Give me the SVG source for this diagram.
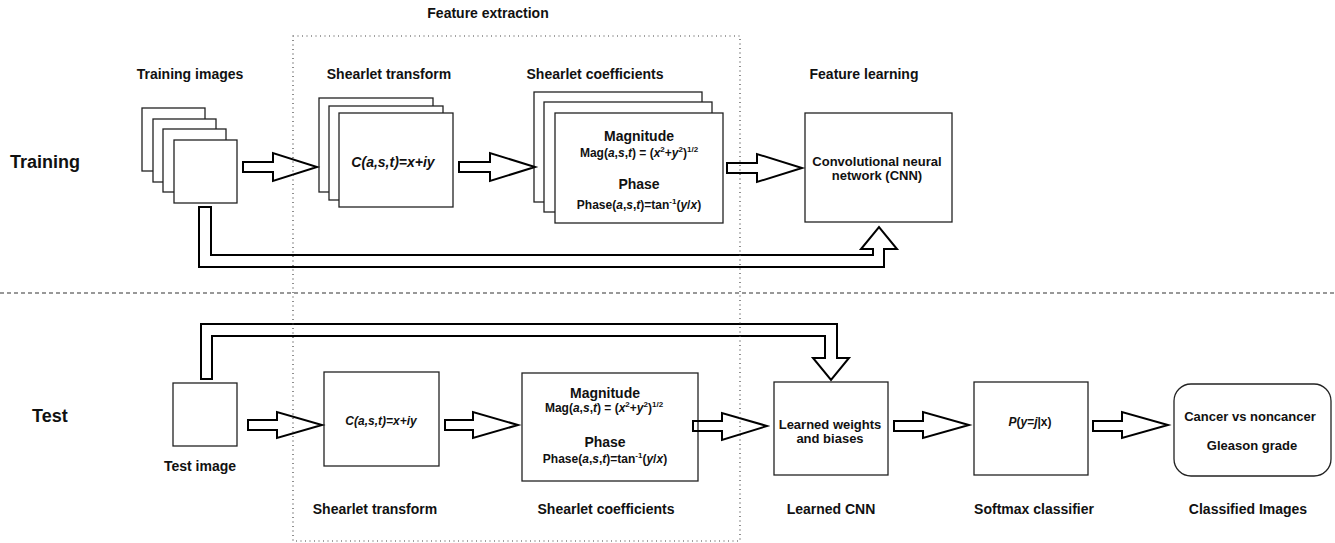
<svg xmlns="http://www.w3.org/2000/svg" width="1335" height="543" viewBox="0 0 1335 543">
<style>
text{font-family:"Liberation Sans",Arial,Helvetica,sans-serif;font-weight:bold;fill:#111}
.lbl{font-size:14px;text-anchor:middle}
.big{font-size:18px}
.t13{font-size:13px;text-anchor:middle}
.t12{font-size:12px;text-anchor:middle}
.i{font-style:italic}
.sup{font-size:8px}
.box{fill:#fff;stroke:#222;stroke-width:1.3}
.arr{fill:none;stroke:#000;stroke-width:2;stroke-linejoin:miter}
.dot{fill:none;stroke:#444;stroke-width:1.2;stroke-dasharray:1 3.5}
.dash{fill:none;stroke:#333;stroke-width:1.2;stroke-dasharray:4 3}
</style>
<rect width="1335" height="543" fill="#fff"/>

<g id="section-labels">
<text class="big" x="10" y="168">Training</text>
<text class="big" x="32" y="422">Test</text>
<text class="lbl" x="488" y="18">Feature extraction</text>
</g>

<line id="separator" class="dash" x1="0" y1="293" x2="1335" y2="293"/>

<g id="training-images">
<rect class="box" x="142" y="108" width="63" height="63"/>
<rect class="box" x="153" y="119" width="63" height="63"/>
<rect class="box" x="163" y="129" width="63" height="63"/>
<rect class="box" x="174" y="140" width="63" height="63"/>
<text class="lbl" x="190" y="79">Training images</text>
</g>

<g id="shearlet-transform-train">
<rect class="box" x="319" y="98" width="114" height="94"/>
<rect class="box" x="329" y="106" width="114" height="94"/>
<rect class="box" x="339" y="113" width="114" height="94"/>
<text class="lbl i" x="393" y="167">C(a,s,t)=x+iy</text>
<text class="lbl" x="389" y="79">Shearlet transform</text>
</g>

<g id="shearlet-coefficients-train">
<rect class="box" x="534" y="92" width="168" height="110"/>
<rect class="box" x="544" y="102" width="168" height="110"/>
<rect class="box" x="555" y="113" width="168" height="110"/>
<text class="lbl" x="639" y="141">Magnitude</text>
<text class="t12" x="639" y="157">Mag(<tspan class="i">a</tspan>,<tspan class="i">s</tspan>,<tspan class="i">t</tspan>) = (<tspan class="i">x</tspan><tspan class="sup" dy="-5">2</tspan><tspan dy="5">+</tspan><tspan class="i">y</tspan><tspan class="sup" dy="-5">2</tspan><tspan dy="5">)</tspan><tspan class="sup" dy="-5">1/2</tspan></text>
<text class="lbl" x="639" y="189">Phase</text>
<text class="t12" x="639" y="209">Phase(<tspan class="i">a</tspan>,<tspan class="i">s</tspan>,<tspan class="i">t</tspan>)=tan<tspan class="sup" dy="-5">-1</tspan><tspan dy="5">(</tspan><tspan class="i">y</tspan>/<tspan class="i">x</tspan>)</text>
<text class="lbl" x="595" y="79">Shearlet coefficients</text>
</g>

<g id="cnn">
<rect class="box" x="805" y="113" width="147" height="109"/>
<text class="t13" x="877" y="166">Convolutional neural</text>
<text class="t13" x="877" y="180">network (CNN)</text>
<text class="lbl" x="864" y="79">Feature learning</text>
</g>

<g id="test-image">
<rect class="box" x="173" y="383" width="64" height="63"/>
<text class="lbl" x="200" y="471">Test image</text>
</g>

<g id="shearlet-transform-test">
<rect class="box" x="324" y="372" width="115" height="94"/>
<text class="t12 i" x="381" y="425">C(a,s,t)=x+iy</text>
<text class="lbl" x="375" y="514">Shearlet transform</text>
</g>

<g id="shearlet-coefficients-test">
<rect class="box" x="522" y="373" width="176" height="108"/>
<text class="lbl" x="605" y="398">Magnitude</text>
<text class="t12" x="604" y="412">Mag(<tspan class="i">a</tspan>,<tspan class="i">s</tspan>,<tspan class="i">t</tspan>) = (<tspan class="i">x</tspan><tspan class="sup" dy="-5">2</tspan><tspan dy="5">+</tspan><tspan class="i">y</tspan><tspan class="sup" dy="-5">2</tspan><tspan dy="5">)</tspan><tspan class="sup" dy="-5">1/2</tspan></text>
<text class="lbl" x="605" y="447">Phase</text>
<text class="t12" x="605" y="463">Phase(<tspan class="i">a</tspan>,<tspan class="i">s</tspan>,<tspan class="i">t</tspan>)=tan<tspan class="sup" dy="-5">-1</tspan><tspan dy="5">(</tspan><tspan class="i">y</tspan>/<tspan class="i">x</tspan>)</text>
<text class="lbl" x="606" y="514">Shearlet coefficients</text>
</g>

<g id="learned-cnn">
<rect class="box" x="774" y="382" width="114" height="93"/>
<text class="t13" x="830" y="429">Learned weights</text>
<text class="t13" x="830" y="443">and biases</text>
<text class="lbl" x="831" y="514">Learned CNN</text>
</g>

<g id="softmax">
<rect class="box" x="974" y="382" width="114" height="93"/>
<text class="t12" x="1030" y="426"><tspan class="i">P</tspan>(<tspan class="i">y</tspan>=<tspan class="i">j</tspan>|x)</text>
<text class="lbl" x="1034" y="514">Softmax classifier</text>
</g>

<g id="classified">
<rect class="box" x="1174" y="384" width="157" height="92" rx="17" ry="17"/>
<text class="t13" x="1250" y="421">Cancer vs noncancer</text>
<text class="t13" x="1252" y="450">Gleason grade</text>
<text class="lbl" x="1248" y="514">Classified Images</text>
</g>

<g id="connectors">
<path class="arr" d="M243,162 H273 V153 L317,167 L273,181 V172 H243 Z"/>
<path class="arr" d="M459,162 H490 V153 L535,167 L490,181 V172 H459 Z"/>
<path class="arr" d="M727,163 H757 V154 L802,168 L757,182 V173 H727 Z"/>
<path class="arr" d="M199,207 H211 V255 H873 V249 H861 L879,227 L897,249 H884 V267 H199 Z"/>
<path class="arr" d="M201,379 V324 H837 V358 H849 L831,380 L813,358 H825 V336 H212 V379 Z"/>
<path class="arr" d="M248,420 H277 V412 L322,425 L277,438 V430 H248 Z"/>
<path class="arr" d="M445,420 H473 V412 L518,425 L473,438 V430 H445 Z"/>
<path class="arr" d="M693,421 H722 V413 L767,426 L722,440 V431 H693 Z"/>
<path class="arr" d="M894,421 H923 V412 L969,425 L923,438 V431 H894 Z"/>
<path class="arr" d="M1093,421 H1122 V412 L1168,425 L1122,438 V431 H1093 Z"/>
</g>

<rect id="feature-extraction-region" class="dot" x="293" y="36" width="447" height="505"/>
</svg>
